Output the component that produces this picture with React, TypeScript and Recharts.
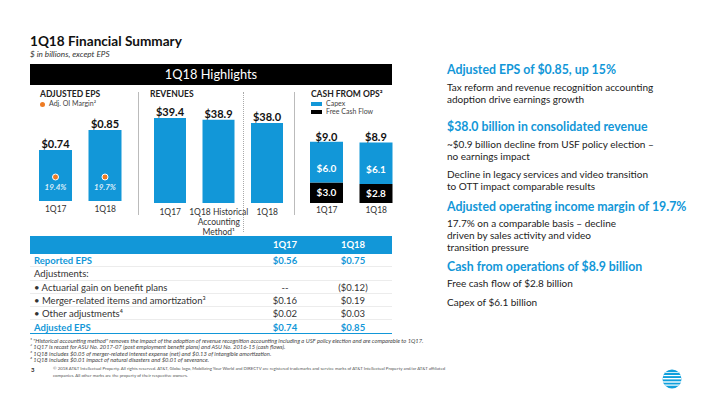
import React from 'react';
import { BarChart, Bar, XAxis, YAxis, LabelList } from 'recharts';

// adjusted EPS panel
const epsQuarters = ['1Q17', '1Q18'];
const adjEps = [0.74, 0.85];
const oiMargin = [19.4, 19.7];

// revenues panel
const revenueQuarters = ['1Q17', '1Q18 Historical\nAccounting\nMethod¹', '1Q18'];
const revenues = [39.4, 38.9, 38.0];

// cash from ops panel
const cashQuarters = ['1Q17', '1Q18'];
const capex = [6.0, 6.1];
const freeCashFlow = [3.0, 2.8];
const cashFromOps = [9.0, 8.9];

// EPS reconciliation table
const tableCols = ['1Q17', '1Q18'];
const tableLabels = [
  'Reported EPS',
  'Adjustments:',
  '• Actuarial gain on benefit plans',
  '• Merger-related items and amortization³',
  '• Other adjustments⁴',
  'Adjusted EPS',
];
const table1Q17 = ['$0.56', '', '--', '$0.16', '$0.02', '$0.74'];
const table1Q18 = ['$0.75', '', '($0.12)', '$0.19', '$0.03', '$0.85'];
const tableHighlight = [true, false, false, false, false, true];

const BLUE = '#1297d8';
const ORANGE = '#ee7b23';
const FONT = "Lato, 'Open Sans', sans-serif";
const money = (v: number, d = 1) => `$${v.toFixed(d)}`;

const epsData = epsQuarters.map((q, i) => ({ q, eps: adjEps[i], margin: oiMargin[i] }));
const revData = revenueQuarters.map((q, i) => ({ q, rev: revenues[i] }));
const cashData = cashQuarters.map((q, i) => ({
  q,
  capex: capex[i],
  fcf: freeCashFlow[i],
  total: cashFromOps[i],
}));

const box = (p: any) => {
  const vb = p.viewBox || {};
  return {
    x: Number(p.x ?? vb.x),
    y: Number(p.y ?? vb.y),
    width: Number(p.width ?? vb.width),
    height: Number(p.height ?? vb.height),
  };
};

const MarginDot = (p: any) => {
  const { x, y, width, height } = box(p);
  const cx = x + width / 2;
  const bottom = y + height;
  return (
    <g>
      <circle cx={cx} cy={bottom - 24} r={3} fill={ORANGE} stroke="#fff" strokeWidth={1} />
      <text x={cx} y={bottom - 11} textAnchor="middle" fontSize={8} fontStyle="italic" fontWeight={700} fill="#dcedf8" fontFamily={FONT}>
        {`${p.value.toFixed(1)}%`}
      </text>
    </g>
  );
};

const InsideLabel = (shift: number) => (p: any) => {
  const { x, y, width, height } = box(p);
  return (
    <text x={x + width / 2} y={y + height / 2 + shift + 3.5} textAnchor="middle" fontSize={10} fontWeight={700} fill="#fff" fontFamily={FONT}>
      {money(p.value)}
    </text>
  );
};

const MultiTick = (p: any) => {
  const lines = String(p.payload.value).split('\n');
  return (
    <text x={p.x} y={p.y} textAnchor="middle" fontSize={8.5} fill="#333" fontFamily={FONT}>
      {lines.map((l, i) => (
        <tspan key={i} x={p.x} dy={i === 0 ? '0.71em' : 10}>{l}</tspan>
      ))}
    </text>
  );
};

const tickStyle = { fontSize: 8.5, fill: '#333', fontFamily: FONT };
const topLabel = { fontSize: 11, fontWeight: 700, fill: '#111', fontFamily: FONT };

const abs = (left: number, top: number, extra: React.CSSProperties = {}): React.CSSProperties => ({
  position: 'absolute',
  left,
  top,
  whiteSpace: 'nowrap',
  ...extra,
});

const rightBlocks = [
  { head: 'Adjusted EPS of $0.85, up 15%', top: 70, body: ['Tax reform and revenue recognition accounting', 'adoption drive earnings growth'], bodyTop: 87 },
  { head: '$38.0 billion in consolidated revenue', top: 127, body: ['~$0.9 billion decline from USF policy election –', 'no earnings impact'], bodyTop: 144 },
  { head: '', top: 0, body: ['Decline in legacy services and video transition', 'to OTT impact comparable results'], bodyTop: 174 },
  { head: 'Adjusted operating income margin of 19.7%', top: 207, body: ['17.7% on a comparable basis – decline', 'driven by sales activity and video', 'transition pressure'], bodyTop: 223 },
  { head: 'Cash from operations of $8.9 billion', top: 267, body: ['Free cash flow of $2.8 billion'], bodyTop: 283 },
  { head: '', top: 0, body: ['Capex of $6.1 billion'], bodyTop: 302 },
];

const footnotes = [
  '¹ "Historical accounting method" removes the impact of the adoption of revenue recognition accounting including a USF policy election and are comparable to 1Q17.',
  '² 1Q17 is recast for ASU No. 2017-07 (post employment benefit plans) and ASU No. 2016-15 (cash flows).',
  '³ 1Q18 includes $0.05 of merger-related interest expense (net) and $0.13 of intangible amortization.',
  '⁴ 1Q18 includes $0.01 impact of natural disasters and $0.01 of severance.',
];

export default function App() {
  return (
    <div style={{ position: 'absolute', left: 0, top: 0, width: 710, height: 399, background: '#fff', overflow: 'hidden', fontFamily: FONT, color: '#222' }}>
      {/* title */}
      <div style={abs(30, 32, { fontSize: 13.6, fontWeight: 700, lineHeight: '18px', color: '#111' })}>1Q18 Financial Summary</div>
      <div style={abs(30, 49, { fontSize: 8.2, fontStyle: 'italic', lineHeight: '10px', color: '#333' })}>$ in billions, except EPS</div>

      <div style={abs(30, 64, { width: 362, height: 21, background: '#000', color: '#fff', fontSize: 12.8, lineHeight: '21px', textAlign: 'center' })}>1Q18 Highlights</div>

      {/* panel headings & legends */}
      <div style={abs(40, 89, { fontSize: 8.5, fontWeight: 700, lineHeight: '10px' })}>ADJUSTED EPS</div>
      <div style={abs(40, 99, { fontSize: 7, lineHeight: '9px', color: '#444' })}>
        <span style={{ display: 'inline-block', width: 5, height: 5, borderRadius: 3, background: ORANGE, marginRight: 4, verticalAlign: 'middle' }} />
        Adj. OI Margin²
      </div>
      <div style={abs(150, 89, { fontSize: 8.5, fontWeight: 700, lineHeight: '10px' })}>REVENUES</div>
      <div style={abs(311, 89, { fontSize: 8.5, fontWeight: 700, lineHeight: '10px' })}>CASH FROM OPS²</div>
      <div style={abs(311, 99, { fontSize: 7, lineHeight: '8px', color: '#444' })}>
        <span style={{ display: 'inline-block', width: 11, height: 4, background: BLUE, marginRight: 4, verticalAlign: 'middle' }} />Capex
      </div>
      <div style={abs(311, 107, { fontSize: 7, lineHeight: '8px', color: '#444' })}>
        <span style={{ display: 'inline-block', width: 11, height: 4, background: '#000', marginRight: 4, verticalAlign: 'middle' }} />Free Cash Flow
      </div>

      {/* dividers */}
      <div style={abs(138, 92, { width: 1, height: 123, background: '#bbb' })} />
      <div style={abs(294, 92, { width: 1, height: 123, background: '#bbb' })} />
      <div style={abs(243, 92, { width: 0, height: 140, borderLeft: '1px dotted #aaa' })} />

      {/* EPS chart */}
      <div style={abs(31, 90)}>
        <BarChart width={99} height={135} data={epsData} margin={{ top: 12.6, right: 0, bottom: 0, left: 0 }}>
          <XAxis dataKey="q" axisLine={false} tickLine={false} tickSize={0} tickMargin={5} height={24} tick={tickStyle} interval={0} />
          <YAxis hide domain={[0.46, 1.0]} />
          <Bar dataKey="eps" fill={BLUE} barSize={33} isAnimationActive={false}>
            <LabelList dataKey="eps" position="top" offset={2} style={topLabel} formatter={(v: any) => money(Number(v), 2)} />
            <LabelList dataKey="margin" content={MarginDot} />
          </Bar>
        </BarChart>
      </div>

      {/* Revenue chart */}
      <div style={abs(145.75, 90)}>
        <BarChart width={145.5} height={150} data={revData} margin={{ top: 10, right: 0, bottom: 15, left: 0 }}>
          <XAxis dataKey="q" axisLine={false} tickLine={false} tickSize={0} tickMargin={6} height={22} tick={<MultiTick />} interval={0} />
          <YAxis hide domain={[15.6, 44.45]} />
          <Bar dataKey="rev" fill={BLUE} barSize={32} isAnimationActive={false}>
            <LabelList dataKey="rev" position="top" offset={2} style={topLabel} formatter={(v: any) => money(Number(v))} />
          </Bar>
        </BarChart>
      </div>

      {/* Cash from ops chart */}
      <div style={abs(301.75, 90)}>
        <BarChart width={99} height={135} data={cashData} margin={{ top: 10, right: 0, bottom: 0, left: 0 }}>
          <XAxis dataKey="q" axisLine={false} tickLine={false} tickSize={0} tickMargin={4} height={22} tick={tickStyle} interval={0} />
          <YAxis hide domain={[0, 15.15]} />
          <Bar dataKey="fcf" stackId="c" fill="#000" barSize={33} isAnimationActive={false}>
            <LabelList dataKey="fcf" content={InsideLabel(0)} />
          </Bar>
          <Bar dataKey="capex" stackId="c" fill={BLUE} barSize={33} isAnimationActive={false}>
            <LabelList dataKey="capex" content={InsideLabel(6)} />
            <LabelList dataKey="total" position="top" offset={1} style={topLabel} formatter={(v: any) => money(Number(v))} />
          </Bar>
        </BarChart>
      </div>

      {/* EPS table */}
      <div style={abs(30, 236, { width: 362, height: 18, background: BLUE })} />
      {tableCols.map((c, i) => (
        <div key={c} style={abs(i === 0 ? 265 : 333, 236, { width: 40, textAlign: 'center', fontSize: 9.5, fontWeight: 700, color: '#fff', lineHeight: '18px' })}>{c}</div>
      ))}
      {tableLabels.map((l, i) => {
        const top = 254 + i * 13.3;
        const color = tableHighlight[i] ? BLUE : '#333';
        const fw = tableHighlight[i] ? 700 : 400;
        return (
          <React.Fragment key={l}>
            <div style={abs(30, top, { width: 362, height: 13.3, borderBottom: i < 5 ? '1px solid #ececec' : `1px solid ${BLUE}`, boxSizing: 'border-box' })} />
            <div style={abs(34, top, { fontSize: 9.5, lineHeight: '13.3px', color, fontWeight: fw })}>{l}</div>
            <div style={abs(255, top, { width: 60, textAlign: 'center', fontSize: 9.5, lineHeight: '13.3px', color, fontWeight: fw })}>{table1Q17[i]}</div>
            <div style={abs(323, top, { width: 60, textAlign: 'center', fontSize: 9.5, lineHeight: '13.3px', color, fontWeight: fw })}>{table1Q18[i]}</div>
          </React.Fragment>
        );
      })}

      {/* right-hand commentary */}
      {rightBlocks.map((b, i) => (
        <React.Fragment key={i}>
          {b.head && (
            <div style={abs(447, b.top - 8, { fontSize: 12.3, fontWeight: 700, color: BLUE, lineHeight: '16px' })}>{b.head}</div>
          )}
          {b.body.map((t, j) => (
            <div key={j} style={abs(447, b.bodyTop - 6 + j * 11.8, { fontSize: 10, lineHeight: '12px', color: '#222' })}>{t}</div>
          ))}
        </React.Fragment>
      ))}

      {/* footnotes */}
      {footnotes.map((f, i) => (
        <div key={i} style={abs(30, 337.5 + i * 6.6, { fontSize: 5.8, fontStyle: 'italic', lineHeight: '6px', color: '#444' })}>{f}</div>
      ))}
      <div style={abs(31, 366, { fontSize: 6, fontWeight: 700, lineHeight: '7px' })}>3</div>
      <div style={abs(53, 365, { fontSize: 4.35, lineHeight: '7px', color: '#555' })}>
        © 2018 AT&T Intellectual Property. All rights reserved. AT&T, Globe logo, Mobilizing Your World and DIRECTV are registered trademarks and service marks of AT&T Intellectual Property and/or AT&T affiliated
      </div>
      <div style={abs(53, 372, { fontSize: 4.35, lineHeight: '7px', color: '#555' })}>
        companies. All other marks are the property of their respective owners.
      </div>

      {/* globe logo */}
      <svg style={abs(662, 369)} width={20} height={20}>
        <defs>
          <clipPath id="globe">
            <circle cx={10} cy={10} r={9.5} />
          </clipPath>
        </defs>
        <circle cx={10} cy={10} r={9.5} fill="#10a0dc" />
        <g clipPath="url(#globe)" fill="#fff">
          <rect x={0} y={3.2} width={20} height={0.8} />
          <rect x={0} y={6} width={20} height={1.1} />
          <rect x={0} y={9} width={20} height={1.4} />
          <rect x={0} y={12.3} width={20} height={1.4} />
          <rect x={0} y={15.5} width={20} height={1.2} />
        </g>
      </svg>
    </div>
  );
}
